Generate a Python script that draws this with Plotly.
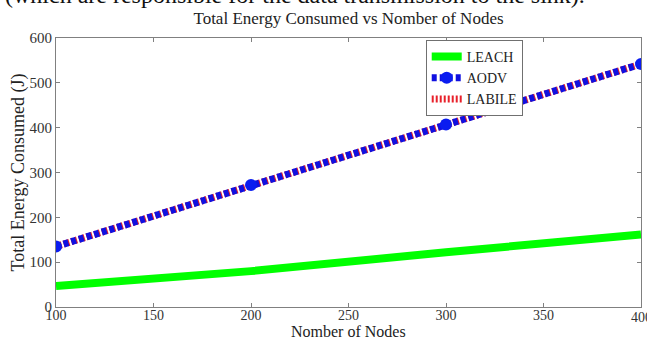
import plotly.graph_objects as go

nodes = [100, 200, 300, 400]
leach = [47, 80, 122, 162]
aodv = [135, 272, 407, 542]
labile = [135, 272, 407, 542]

x_ticks = [100, 150, 200, 250, 300, 350, 400]
y_ticks = [0, 100, 200, 300, 400, 500, 600]

FONT = "Liberation Serif"

fig = go.Figure()
fig.add_trace(go.Scatter(x=nodes, y=leach, name="LEACH", mode="lines",
                         line=dict(color="#00ff00", width=8), legendrank=1))
fig.add_trace(go.Scatter(x=nodes, y=labile, name="LABILE", mode="lines",
                         line=dict(color="#e8202a", width=7, dash="2px,2px"), legendrank=3))
fig.add_trace(go.Scatter(x=nodes, y=aodv, name="AODV", mode="lines+markers",
                         line=dict(color="#1010e0", width=7, dash="5px,3px"),
                         marker=dict(symbol="circle", size=12, color="#0a1cf0"),
                         legendrank=2))

axis_common = dict(showline=True, linecolor="#808080", linewidth=1, mirror="ticks",
                   ticks="inside", ticklen=4, tickcolor="#808080", showgrid=False,
                   zeroline=False, automargin=False,
                   tickfont=dict(family=FONT, size=15, color="#333"))

fig.update_layout(
    width=647, height=341,
    margin=dict(l=56, r=6, t=38, b=34),
    paper_bgcolor="white", plot_bgcolor="white",
    font=dict(family=FONT, color="#222"),
    title=dict(text="Total Energy Consumed vs Nomber of Nodes", x=(56 + 641) / 2 / 647,
               xanchor="center", y=1 - 18 / 341, yanchor="middle",
               font=dict(family=FONT, size=17, color="#222")),
    xaxis=dict(range=[100, 400], tickvals=x_ticks, ticklabelstandoff=-5,
               **{**axis_common, "tickfont": dict(family=FONT, size=14, color="#333")}),
    yaxis=dict(range=[0, 600], tickvals=y_ticks,
               title=dict(text="Total Energy Consumed (J)", font=dict(family=FONT, size=18, color="#222"),
                          standoff=0), **axis_common),
    legend=dict(x=0.632, y=0.993, xanchor="left", yanchor="top",
                bgcolor="white", bordercolor="#707070", borderwidth=1,
                font=dict(family=FONT, size=14, color="#222"),
                tracegroupgap=0, itemwidth=30),
    showlegend=True,
    annotations=[
        dict(text="(which are responsible for the data transmission to the sink).",
             xref="paper", yref="paper", x=-0.09, y=1 + 28 / 269,
             xanchor="left", yanchor="bottom", showarrow=False,
             font=dict(family=FONT, size=24, color="#111")),
        dict(text="400", xref="x", yref="paper", x=400, y=-0.002,
             xanchor="center", yanchor="top", showarrow=False,
             font=dict(family=FONT, size=14, color="#333")),
        dict(text="Nomber of Nodes", xref="paper", yref="paper", x=0.5, y=-34 / 269,
             xanchor="center", yanchor="bottom", showarrow=False, borderpad=0,
             font=dict(family=FONT, size=16, color="#222")),
    ],
)

fig.write_html("out.html")
